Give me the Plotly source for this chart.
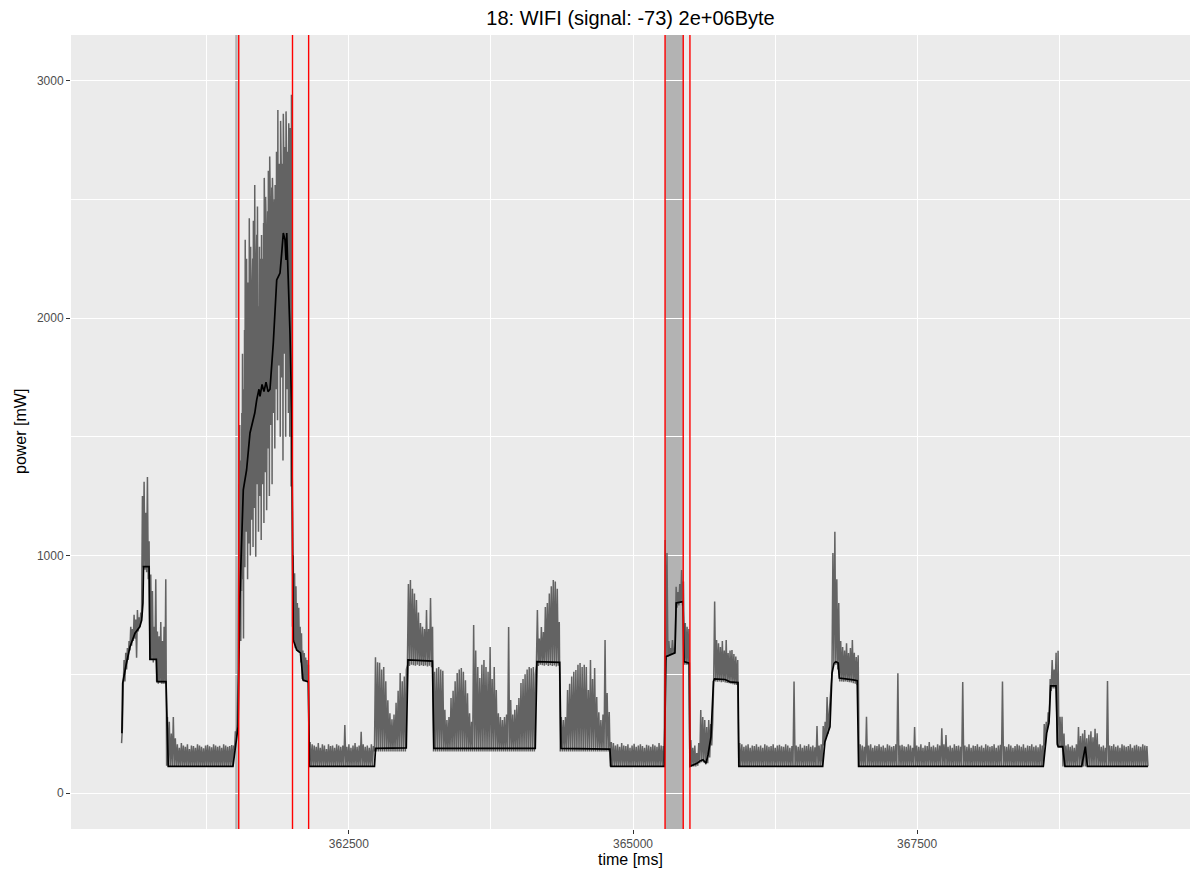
import plotly.graph_objects as go

# ---------------------------------------------------------------- data
TITLE = "18: WIFI (signal: -73) 2e+06Byte"
X_LABEL = "time [ms]"
Y_LABEL = "power [mW]"

x_ticks = [362500, 365000, 367500]
x_minor = [361250, 363750, 366250, 368750]
y_ticks = [0, 1000, 2000, 3000]
y_minor = [500, 1500, 2500]

# marked events (red vertical lines) and shaded intervals
event_ms = [361531, 362004, 362146, 365282, 365442, 365501]
shade_start_ms = [361500, 365282]
shade_end_ms = [361522, 365442]

# smoothed power (black line)
smooth_t = [360503, 360510, 360540, 360574, 360618, 360660, 360677, 360688, 360693, 360742,
            360750, 360806, 360812, 360891, 360911, 361480, 361525, 361540, 361571, 361600,
            361630, 361672, 361689, 361709, 361718, 361736, 361753, 361771, 361789, 361806,
            361835, 361865, 361879, 361894, 361909, 361923, 361938, 361947, 361953, 361967,
            361982, 361997, 362004, 362011, 362041, 362074, 362083, 362096, 362143, 362153,
            362725, 362735, 363005, 363020, 363235, 363248, 364140, 364155, 364355, 364366,
            364797, 364806, 365275, 365290, 365369, 365380, 365440, 365448, 365495, 365501,
            365563, 365590, 365616, 365642, 365660, 365686, 365708, 365717, 365810, 365853,
            365924, 365932, 366669, 366689, 366718, 366733, 366742, 366751, 366769, 366786,
            366806, 366815, 366938, 366973, 366985, 368610, 368640, 368660, 368675, 368722,
            368735, 368740, 368781, 368801, 368948, 368980, 368998, 369531]
smooth_mw = [252, 463, 540, 615, 673, 700, 728, 800, 953, 953,
             563, 563, 469, 469, 112, 112, 279, 813, 1276, 1360,
             1516, 1600, 1655, 1700, 1670, 1720, 1690, 1730, 1690, 1700,
             1895, 2160, 2174, 2189, 2273, 2358, 2329, 2244, 2358, 2189,
             1937, 1600, 1100, 644, 602, 590, 547, 476, 468, 112,
             112, 188, 190, 560, 555, 188, 188, 553, 550, 188,
             185, 112, 112, 574, 590, 800, 806, 553, 547, 112,
             125, 135, 140, 125, 160, 236, 470, 480, 478, 468,
             465, 112, 112, 216, 258, 279, 392, 504, 547, 553,
             547, 484, 476, 473, 112, 112, 252, 295, 451, 451,
             210, 195, 195, 112, 112, 195, 112, 112]

# raw power samples: segment edges [ms], then per segment the
# sample peaks (hi) and the troughs between them (lo)
seg_edges_ms = [360500, 360911, 361478, 361525, 362004, 362150, 362725, 363015, 363245,
                364150, 364360, 364800, 365275, 365500, 365710, 365930, 366665, 366990,
                368610, 368801, 369531]

IDLE_FLOOR = 112
BUSY_FLOOR = 175

hi_wake = [275, 560, 590, 610, 640, 700, 690, 750, 730, 770, 740, 760, 1250, 1310,
           1180, 1330, 1060, 920, 850, 700, 900, 680, 660, 720, 640, 700, 900, 320]
lo_wake = [210, 450, 470, 520, 560, 600, 620, 640, 650, 570, 680, 700, 740, 950,
           940, 930, 900, 560, 560, 550, 560, 470, 460, 465, 460, 460, 460, 115]
hi_idle1 = [300, 250, 320, 230, 205, 190, 210, 200, 195, 205, 185, 200, 198, 190, 205, 200,
            195, 188, 200, 203, 197, 192, 205, 200, 195, 199, 190, 205, 200, 195, 198, 202]
hi_ramp = [200, 260, 290]
lo_ramp = [112, 180, 240]
hi_burst = [1000, 1300, 1550, 1250, 1400, 1600, 1850, 1500, 1700, 1950,
            2330, 1900, 2250, 2000, 2150, 2050, 2420, 2100, 2300, 2150,
            2100, 2250, 2410, 2200, 2560, 2300, 2200, 2350, 2470, 2250,
            2050, 2300, 2150, 2250, 2350, 2200, 2250, 2400, 2590, 2300,
            2510, 2350, 2400, 2450, 2620, 2400, 2680, 2450, 2500, 2550,
            2590, 2450, 2480, 2500, 2560, 2480, 2700, 2550, 2876, 2600,
            2650, 2600, 2830, 2620, 2600, 2650, 2860, 2600, 2720, 2650,
            2870, 2650, 2700, 2600, 2820, 2650, 2800, 2500, 2940, 2200]
lo_burst = [500, 780, 700, 900, 640, 850, 900, 1100, 650, 950,
            950, 1150, 1100, 1250, 900, 1200, 1050, 1300, 1000, 1250,
            1150, 1350, 1036, 1300, 1200, 1400, 995, 1350, 1300, 1450,
            1100, 1400, 1250, 1450, 1065, 1400, 1300, 1500, 1137, 1450,
            1350, 1550, 1191, 1500, 1450, 1650, 1250, 1600, 1550, 1750,
            1300, 1700, 1600, 1800, 1450, 1750, 1700, 1900, 1570, 1850,
            1800, 1950, 1500, 1850, 1750, 1950, 1400, 1800, 1850, 2000,
            1500, 1850, 1700, 1900, 1600, 1850, 1500, 1700, 1290, 1100]
hi_tail = [1000, 925, 870, 800, 780, 700, 673, 600, 589, 570, 560, 540]
lo_tail = [700, 640, 610, 600, 595, 590, 550, 480, 470, 470, 468, 466]
hi_idle2 = [215, 205, 200, 195, 210, 190, 205, 200, 185, 205, 198, 200, 190, 205, 200, 195,
            200, 286, 195, 205, 190, 200, 210, 195, 200, 258, 205, 195, 200, 190, 205, 198]
hi_busy1 = [571, 550, 548, 520, 530, 470, 390, 336, 310, 330, 380, 430, 505, 470, 490, 520]
hi_tx1 = [880, 897, 860, 840, 813, 760, 716, 700, 690, 770, 690, 821, 700]
lo_tx1 = [540, 535, 540, 538, 536, 540, 535, 538, 535, 537, 533, 536, 530]
hi_busy2 = [510, 525, 530, 520, 515, 350, 307, 320, 400, 430,
            470, 505, 520, 526, 510, 475, 420, 336, 300, 707,
            600, 530, 484, 540, 560, 530, 510, 615, 480, 530,
            434, 336, 320, 307, 320, 330, 699, 392, 330, 350,
            370, 400, 463, 480, 500, 520, 530, 525, 530, 500]
hi_tx2 = [770, 650, 699, 678, 783, 800, 840, 870, 897, 890, 860, 720]
lo_tx2 = [540, 535, 540, 538, 536, 540, 535, 538, 535, 537, 533, 536]
hi_busy3 = [320, 307, 320, 434, 460, 490, 510, 518, 540, 547, 530, 540,
            530, 434, 560, 480, 526, 404, 340, 307, 330, 644, 421, 341]
hi_idle3 = [215, 210, 200, 205, 195, 210, 200, 198, 205, 190, 200, 207, 195,
            200, 205, 198, 190, 203, 200, 195, 205, 200, 195, 210, 200, 198]
hi_tx3 = [1065, 1010, 640, 610, 644, 600, 868, 846, 880, 939, 890, 716, 700, 690]
lo_tx3 = [112, 560, 575, 580, 585, 590, 620, 780, 790, 800, 790, 540, 540, 540]
hi_gap = [223, 190, 200, 168, 210, 349, 320, 307, 278, 307, 290, 300]
lo_gap = [112, 112, 112, 112, 115, 125, 130, 128, 120, 125, 150, 200]
hi_rx = [806, 644, 630, 615, 640, 600, 644, 589, 600, 602, 585, 575, 560]
lo_rx = [470, 470, 468, 470, 466, 468, 465, 463, 462, 460, 458, 456, 455]
hi_idle4 = [210, 205, 195, 200, 205, 190, 200, 198, 205, 195,
            200, 190, 205, 200, 195, 198, 205, 190, 200, 203,
            197, 195, 205, 200, 190, 198, 469, 200, 195, 205,
            190, 200, 198, 205, 195, 200, 192, 282, 200, 205]
hi_tx4 = [282, 300, 404, 330, 476, 1010, 1100, 900, 800, 640,
          615, 600, 630, 589, 610, 644, 590, 573, 580]
lo_tx4 = [112, 200, 230, 250, 390, 500, 550, 540, 520, 470,
          470, 468, 470, 468, 466, 465, 462, 460, 455]
hi_idle5 = [205, 200, 195, 321, 200, 205, 190, 200, 198, 205,
            195, 200, 190, 205, 200, 195, 198, 205, 504, 200,
            203, 197, 195, 205, 200, 190, 278, 200, 195, 205,
            190, 200, 198, 215, 195, 200, 192, 205, 200, 273,
            205, 244, 195, 200, 190, 205, 198, 200, 195, 467,
            200, 195, 205, 190, 200, 198, 205, 195, 200, 190,
            205, 200, 195, 198, 205, 190, 200, 203, 469, 197,
            195, 205, 200, 190, 198, 205, 200, 195, 205, 190,
            200, 198, 205, 195, 200, 192, 205, 200]
hi_tx5 = [290, 300, 340, 480, 560, 520, 590, 599, 321, 321, 250]
lo_tx5 = [112, 200, 260, 300, 430, 440, 440, 200, 190, 190, 112]
hi_idle6 = [200, 205, 195, 200, 190, 205, 278, 240, 250, 265,
            230, 245, 260, 235, 270, 252, 205, 195, 200, 190,
            471, 200, 198, 205, 195, 200, 190, 205, 200, 195,
            198, 205, 190, 200, 203, 197, 195, 205, 200, 198]

segments = [
    (hi_wake, lo_wake), (hi_idle1, IDLE_FLOOR), (hi_ramp, lo_ramp),
    (hi_burst, lo_burst), (hi_tail, lo_tail), (hi_idle2, IDLE_FLOOR),
    (hi_busy1, BUSY_FLOOR), (hi_tx1, lo_tx1), (hi_busy2, BUSY_FLOOR),
    (hi_tx2, lo_tx2), (hi_busy3, BUSY_FLOOR), (hi_idle3, IDLE_FLOOR),
    (hi_tx3, lo_tx3), (hi_gap, lo_gap), (hi_rx, lo_rx), (hi_idle4, IDLE_FLOOR),
    (hi_tx4, lo_tx4), (hi_idle5, IDLE_FLOOR), (hi_tx5, lo_tx5), (hi_idle6, IDLE_FLOOR),
]

# ---------------------------------------------------------------- raw trace
raw_t, raw_mw = [], []
for k, (hi, lo) in enumerate(segments):
    t0, t1 = seg_edges_ms[k], seg_edges_ms[k + 1]
    step = (t1 - t0) / len(hi)
    for i, peak in enumerate(hi):
        trough = lo[i] if isinstance(lo, list) else lo
        raw_t += [t0 + i * step, t0 + (i + 0.5) * step]
        raw_mw += [trough, peak]
raw_t.append(seg_edges_ms[-1])
raw_mw.append(IDLE_FLOOR)

# ---------------------------------------------------------------- figure
FONT = "Liberation Sans, Arial, sans-serif"
X_RANGE = [360055, 369901]
Y_RANGE = [-151.6, 3191.6]

fig = go.Figure()
fig.add_trace(go.Scatter(x=raw_t, y=raw_mw, mode="lines",
                         line=dict(color="#636363", width=1.5),
                         hoverinfo="skip"))
fig.add_trace(go.Scatter(x=smooth_t, y=smooth_mw, mode="lines",
                         line=dict(color="black", width=1.7),
                         hoverinfo="skip"))

for a, b in zip(shade_start_ms, shade_end_ms):
    fig.add_shape(type="rect", xref="x", yref="paper", x0=a, x1=b, y0=0, y1=1,
                  fillcolor="#B3B3B3", line=dict(width=0), layer="between")
for t in event_ms:
    fig.add_shape(type="line", xref="x", yref="paper", x0=t, x1=t, y0=0, y1=1,
                  line=dict(color="#FF0000", width=1.4), layer="above")

axis_common = dict(
    ticks="outside", ticklen=4, tickwidth=1.4, tickcolor="#333333",
    tickfont=dict(family=FONT, size=12, color="#4D4D4D"),
    showgrid=True, gridcolor="white", gridwidth=1.4,
    zeroline=False, showline=False,
)
fig.update_xaxes(range=X_RANGE, tickmode="array", tickvals=x_ticks,
                 ticktext=[str(v) for v in x_ticks],
                 minor=dict(tickmode="array", tickvals=x_minor, showgrid=True,
                            gridcolor="white", gridwidth=0.7, ticks=""),
                 **axis_common)
fig.update_yaxes(range=Y_RANGE, tickmode="array", tickvals=y_ticks,
                 ticktext=[str(v) for v in y_ticks],
                 minor=dict(tickmode="array", tickvals=y_minor, showgrid=True,
                            gridcolor="white", gridwidth=0.7, ticks=""),
                 **axis_common)

fig.update_layout(
    width=1197, height=871,
    margin=dict(l=71, r=7, t=35, b=42, pad=0),
    paper_bgcolor="white", plot_bgcolor="#EBEBEB",
    showlegend=False,
    font=dict(family=FONT, color="black"),
    title=dict(text=TITLE, x=0.5, xref="paper", xanchor="center",
               y=1 - 18 / 871, yref="container", yanchor="middle",
               font=dict(family=FONT, size=20, color="black")),
    annotations=[
        dict(text=X_LABEL, xref="paper", yref="paper", x=0.5, y=-30 / 794,
             xanchor="center", yanchor="middle", showarrow=False,
             font=dict(family=FONT, size=16, color="black")),
        dict(text=Y_LABEL, xref="paper", yref="paper", x=-51 / 1119, y=0.5,
             xanchor="center", yanchor="middle", textangle=-90, showarrow=False,
             font=dict(family=FONT, size=16, color="black")),
    ],
)

fig.write_html("out.html")
